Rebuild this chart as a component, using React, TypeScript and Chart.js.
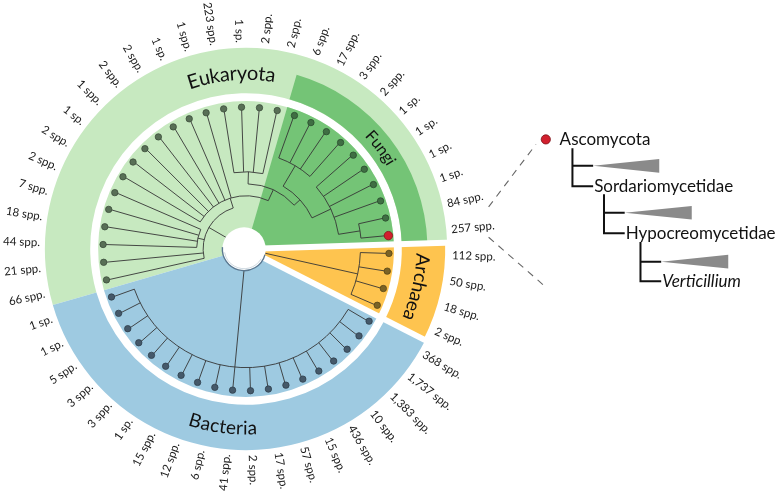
import React, { useEffect, useRef } from "react";
import { Chart, registerables } from "chart.js";

Chart.register(...registerables);

// ---------------- data ----------------
// leaf labels, clockwise, starting at the first Archaea leaf
const archaeaLabels = ["112 spp.", "50 spp.", "18 spp.", "2 spp."];
const bacteriaLabels = [
  "368 spp.", "1,737 spp.", "1,383 spp.", "10 spp.", "436 spp.", "15 spp.", "57 spp.",
  "17 spp.", "2 spp.", "41 spp.", "6 spp.", "12 spp.", "15 spp.", "1 sp.", "3 spp.",
  "3 spp.", "5 spp.", "1 sp.", "1 sp.",
];
const eukaryotaLabels = [
  "66 spp.", "21 spp.", "44 spp.", "18 spp.", "7 spp.", "2 spp.", "2 spp.", "1 sp.",
  "1 spp.", "2 spp.", "2 spp.", "1 sp.", "1 spp.", "223 spp.", "1 sp.", "2 spp.", "2 spp.",
];
const fungiLabels = [
  "6 spp.", "17 spp.", "3 spp.", "2 spp.", "1 sp.", "1 sp.", "1 sp.", "1 sp.", "84 spp.", "257 spp.",
];
const domainNames = ["Archaea", "Bacteria", "Eukaryota", "Fungi"];
const highlightedLeaf = 49; // Ascomycota (257 spp.)

// tree topology: leaf indices, internal nodes with relative depth d (fraction of leaf radius)
const archaeaTree = { d: 0.8, c: [0, 1, 2, 3] };
const bacteriaTree = {
  d: 0.83,
  c: [4, 5, 6, 7, 8, 9, 10, 11, 12, 13, 14, 15, 16, 17, 18, 19, 20, 21, 22],
};
const fungiTree = {
  d: 0.51,
  c: [
    { d: 0.676, c: [40, 41, 42, 43] },
    { d: 0.655, c: [44, 45, 46, 47, { d: 0.807, c: [48, 49] }] },
  ],
};
const eukaryotaTree = {
  d: 0.3,
  c: [
    23,
    24,
    { d: 0.345, c: [25, 26, 27, 28] },
    {
      d: 0.372,
      c: [29, 30, 31, 32, 33, 34, 35, { d: 0.455, c: [{ d: 0.54, c: [36, 37, 38, 39] }, fungiTree] }],
    },
  ],
};

const panelTaxa = ["Ascomycota", "Sordariomycetidae", "Hypocreomycetidae", "Verticillium"];

// ---------------- styling / layout ----------------
const FONT = "Lato, 'Open Sans', sans-serif";
const STEP = 7.2; // degrees per leaf
const FIRST = 1.8; // angle of first leaf
const LEAF_R = 145;
const DISK_R = 150;
const RING_IN = 158;
const RING_OUT = 204;
const ARCH_OUT = 202;
const FUNGI_OUT = 184;
const HOLE_R = 22;
const LABEL_R = 209;

const C_EUK = "#c7e9c0";
const C_FUN = "#74c476";
const C_ARC = "#fec44f";
const C_BAC = "#9ecae1";

const allLabels = [...archaeaLabels, ...bacteriaLabels, ...eukaryotaLabels, ...fungiLabels];
const nA = archaeaLabels.length;
const nB = bacteriaLabels.length;
const nE = eukaryotaLabels.length;
const nF = fungiLabels.length;

const leafAngle = (i: number) => FIRST + i * STEP;
const rad = (d: number) => (d * Math.PI) / 180;

const leafDomain = allLabels.map((_, i) =>
  i < nA ? 0 : i < nA + nB ? 1 : i < nA + nB + nE ? 2 : 3
);
const dotFill = ["#7b6326", "#45596a", "#586f56", "#3f6e43"];
const dotStroke = ["#5a4614", "#2f3f4c", "#3c4e3b", "#2a4d2d"];

function sectorRange(start: number, n: number): [number, number] {
  return [FIRST + (start - 0.5) * STEP, FIRST + (start + n - 0.5) * STEP];
}

function curvedText(
  ctx: CanvasRenderingContext2D,
  text: string,
  cx: number,
  cy: number,
  r: number,
  centerDeg: number,
  outward: boolean,
  font: string
) {
  ctx.save();
  ctx.font = font;
  ctx.fillStyle = "#111";
  ctx.textAlign = "center";
  ctx.textBaseline = "middle";
  const total = ctx.measureText(text).width;
  const dir = outward ? 1 : -1;
  const start = rad(centerDeg) - (dir * total) / (2 * r);
  let acc = 0;
  for (const ch of text) {
    const w = ctx.measureText(ch).width;
    const a = start + (dir * (acc + w / 2)) / r;
    ctx.save();
    ctx.translate(cx + r * Math.cos(a), cy + r * Math.sin(a));
    ctx.rotate(a + (dir * Math.PI) / 2);
    ctx.fillText(ch, 0, 0);
    ctx.restore();
    acc += w;
  }
  ctx.restore();
}

const treePlugin = {
  id: "circularTree",
  beforeDatasetsDraw(chart: any) {
    const ctx: CanvasRenderingContext2D = chart.ctx;
    const xs = chart.scales.x;
    const ys = chart.scales.y;
    const cx = xs.getPixelForValue(0);
    const cy = ys.getPixelForValue(0);
    const k = xs.getPixelForValue(1) - cx;
    const P = (r: number, deg: number): [number, number] => [
      cx + r * k * Math.cos(rad(deg)),
      cy + r * k * Math.sin(rad(deg)),
    ];

    const sector = (r0: number, r1: number, a0: number, a1: number, color: string) => {
      ctx.beginPath();
      ctx.arc(cx, cy, r1 * k, rad(a0), rad(a1));
      ctx.arc(cx, cy, r0 * k, rad(a1), rad(a0), true);
      ctx.closePath();
      ctx.fillStyle = color;
      ctx.fill();
    };

    const [a0, a1] = sectorRange(0, nA);
    const [b0, b1] = sectorRange(nA, nB);
    const [e0, e1] = sectorRange(nA + nB, nE + nF);
    const [f0, f1] = sectorRange(nA + nB + nE, nF);

    ctx.save();
    // inner disk
    sector(0, DISK_R, e0, e1, C_EUK);
    sector(0, DISK_R, f0, f1, C_FUN);
    sector(0, DISK_R, a0, a1, C_ARC);
    sector(0, DISK_R, b0, b1, C_BAC);
    // outer ring
    sector(RING_IN, RING_OUT, e0, e1, C_EUK);
    sector(RING_IN, FUNGI_OUT, f0, f1, C_FUN);
    sector(RING_IN, ARCH_OUT, a0, a1, C_ARC);
    sector(RING_IN, RING_OUT, b0 - 0.01, b1, C_BAC);

    // white gaps around Archaea
    ctx.strokeStyle = "#ffffff";
    ctx.lineWidth = 6 * k;
    for (const g of [a0, a1]) {
      const [x0, y0] = P(0, g);
      const [x1, y1] = P(RING_OUT + 6, g);
      ctx.beginPath();
      ctx.moveTo(x0, y0);
      ctx.lineTo(x1, y1);
      ctx.stroke();
    }

    // tree
    ctx.strokeStyle = "#353535";
    ctx.lineWidth = 0.9;
    const radial = (r0: number, r1: number, deg: number) => {
      const [x0, y0] = P(r0, deg);
      const [x1, y1] = P(r1, deg);
      ctx.beginPath();
      ctx.moveTo(x0, y0);
      ctx.lineTo(x1, y1);
      ctx.stroke();
    };
    const layout = (node: any): { t: number; r: number } => {
      if (typeof node === "number") return { t: leafAngle(node), r: LEAF_R };
      const kids = node.c.map(layout);
      const r = node.d * LEAF_R;
      const t0 = kids[0].t;
      const t1 = kids[kids.length - 1].t;
      ctx.beginPath();
      ctx.arc(cx, cy, r * k, rad(t0), rad(t1));
      ctx.stroke();
      for (const kd of kids) radial(r, kd.r, kd.t);
      return { t: (t0 + t1) / 2, r };
    };
    for (const tree of [archaeaTree, bacteriaTree, eukaryotaTree]) {
      const n = layout(tree);
      radial(0, n.r, n.t);
    }

    // central hole
    const hx = cx - 2 * k;
    ctx.beginPath();
    ctx.arc(hx, cy, HOLE_R * k, 0, Math.PI * 2);
    ctx.fillStyle = "#ffffff";
    ctx.fill();
    ctx.beginPath();
    ctx.arc(hx, cy, HOLE_R * k, rad(15), rad(185));
    ctx.strokeStyle = "#5a7891";
    ctx.lineWidth = 1.4;
    ctx.stroke();
    ctx.beginPath();
    ctx.arc(hx, cy, (HOLE_R - 2) * k, rad(30), rad(170));
    ctx.strokeStyle = "rgba(120,150,170,0.35)";
    ctx.lineWidth = 1;
    ctx.stroke();

    // dashed connector lines toward the Ascomycota panel
    const X = (v: number) => xs.getPixelForValue(v);
    const Y = (v: number) => ys.getPixelForValue(v);
    ctx.strokeStyle = "#666";
    ctx.lineWidth = 1.1;
    ctx.setLineDash([7, 6]);
    ctx.beginPath();
    ctx.moveTo(X(246), Y(43));
    ctx.lineTo(X(294), Y(107));
    ctx.moveTo(X(246), Y(12));
    ctx.lineTo(X(304), Y(-39));
    ctx.stroke();
    ctx.setLineDash([]);

    // Ascomycota cladogram
    const ax = 304;
    const ay = 112;
    const levels = [
      { v: 27, top: 9, mid: 27, bot: 48, tri: 67 },
      { v: 59, top: 56, mid: 75, bot: 96, tri: 68 },
      { v: 96, top: 105, mid: 125, bot: 145, tri: 68 },
    ];
    ctx.strokeStyle = "#111";
    ctx.lineWidth = 2;
    for (const lv of levels) {
      const x0 = X(ax + lv.v);
      const x1 = X(ax + lv.v + 21);
      ctx.beginPath();
      ctx.moveTo(x0, Y(ay - lv.top));
      ctx.lineTo(x0, Y(ay - lv.bot));
      ctx.lineTo(x1, Y(ay - lv.bot));
      ctx.moveTo(x0, Y(ay - lv.mid));
      ctx.lineTo(x1, Y(ay - lv.mid));
      ctx.stroke();
      ctx.beginPath();
      ctx.moveTo(x1, Y(ay - lv.mid));
      ctx.lineTo(X(ax + lv.v + 21 + lv.tri), Y(ay - lv.mid + 7));
      ctx.lineTo(X(ax + lv.v + 21 + lv.tri), Y(ay - lv.mid - 7));
      ctx.closePath();
      ctx.fillStyle = "#8a8a8a";
      ctx.fill();
    }
    ctx.restore();
  },
  afterDatasetsDraw(chart: any) {
    const ctx: CanvasRenderingContext2D = chart.ctx;
    const xs = chart.scales.x;
    const ys = chart.scales.y;
    const cx = xs.getPixelForValue(0);
    const cy = ys.getPixelForValue(0);
    const k = xs.getPixelForValue(1) - cx;
    const X = (v: number) => xs.getPixelForValue(v);
    const Y = (v: number) => ys.getPixelForValue(v);

    // domain titles
    curvedText(ctx, domainNames[2], cx, cy, 178 * k, 265, true, `20px ${FONT}`);
    curvedText(ctx, domainNames[3], cx, cy, 171 * k, 323, true, `16px ${FONT}`);
    curvedText(ctx, domainNames[0], cx, cy, 179 * k, 12.5, true, `19px ${FONT}`);
    curvedText(ctx, domainNames[1], cx, cy, 182 * k, 97.5, false, `19px ${FONT}`);

    // leaf labels
    ctx.save();
    ctx.font = `11.5px ${FONT}`;
    ctx.fillStyle = "#1a1a1a";
    ctx.textBaseline = "middle";
    allLabels.forEach((lab, i) => {
      const deg = leafAngle(i);
      const n = ((deg % 360) + 360) % 360;
      const left = n > 90 && n < 270;
      const a = rad(deg);
      ctx.save();
      ctx.translate(cx + LABEL_R * k * Math.cos(a), cy + LABEL_R * k * Math.sin(a));
      ctx.rotate(left ? a + Math.PI : a);
      ctx.textAlign = left ? "right" : "left";
      ctx.fillText(lab, 0, 0);
      ctx.restore();
    });
    ctx.restore();

    // panel texts
    const ax = 304;
    const ay = 112;
    const textPos = [
      [14, 0],
      [49, 48],
      [81, 96],
      [118, 145],
    ];
    ctx.save();
    ctx.fillStyle = "#111";
    ctx.textBaseline = "middle";
    ctx.textAlign = "left";
    panelTaxa.forEach((t, i) => {
      ctx.font = i === 3 ? `italic 17px ${FONT}` : `17px ${FONT}`;
      ctx.fillText(t, X(ax + textPos[i][0]), Y(ay - textPos[i][1]));
    });
    ctx.restore();
  },
};

export default function App() {
  const ref = useRef<HTMLCanvasElement>(null);
  useEffect(() => {
    const canvas = ref.current;
    if (!canvas) return;
    const leafPoints = allLabels.map((_, i) => {
      const a = rad(leafAngle(i));
      return { x: LEAF_R * Math.cos(a), y: -LEAF_R * Math.sin(a) };
    });
    const chart = new Chart(canvas, {
      type: "scatter",
      data: {
        datasets: [
          {
            label: "leaves",
            data: leafPoints,
            pointRadius: allLabels.map((_, i) => (i === highlightedLeaf ? 4.2 : 3.2)),
            pointBackgroundColor: allLabels.map((_, i) =>
              i === highlightedLeaf ? "#d2202e" : dotFill[leafDomain[i]]
            ),
            pointBorderColor: allLabels.map((_, i) =>
              i === highlightedLeaf ? "#8a1018" : dotStroke[leafDomain[i]]
            ),
            pointBorderWidth: 0.8,
          },
          {
            label: "Ascomycota",
            data: [{ x: 304, y: 112 }],
            pointRadius: 4.6,
            pointBackgroundColor: "#d2202e",
            pointBorderColor: "#7a0f16",
            pointBorderWidth: 0.8,
          },
        ],
      },
      options: {
        responsive: false,
        animation: false,
        events: [],
        layout: { padding: 0 },
        plugins: { legend: { display: false }, tooltip: { enabled: false } },
        scales: {
          x: { type: "linear", display: false, min: -244, max: 536 },
          y: { type: "linear", display: false, min: -245, max: 249 },
        },
      },
      plugins: [treePlugin],
    });
    return () => chart.destroy();
  }, []);
  return (
    <div style={{ position: "fixed", left: 0, top: 0, width: 780, height: 494, background: "#fff" }}>
      <canvas ref={ref} width={780} height={494} style={{ display: "block" }} />
    </div>
  );
}
